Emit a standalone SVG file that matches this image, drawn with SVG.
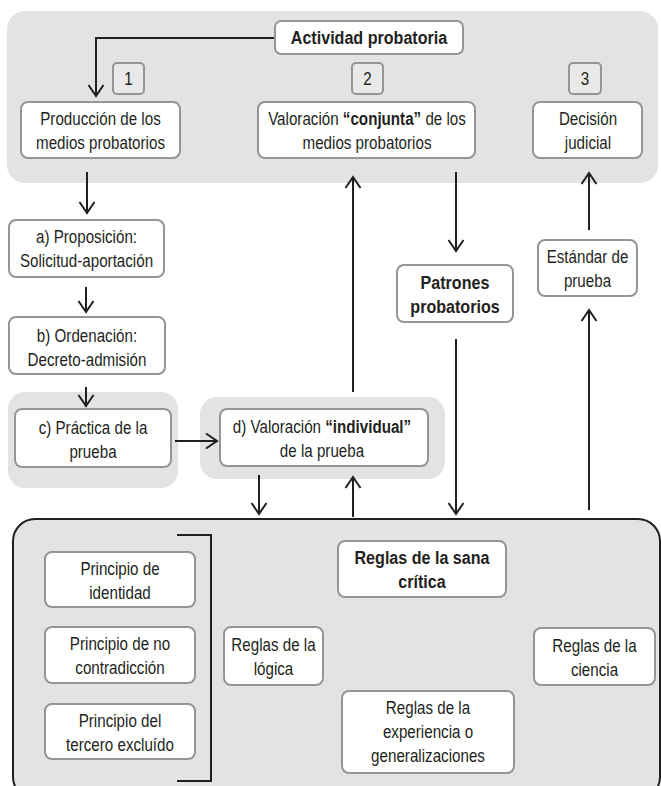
<svg xmlns="http://www.w3.org/2000/svg" width="661" height="786" viewBox="0 0 661 786">
<defs>
<style>
.panel{fill:#e2e4e3;}
.box{fill:#ffffff;stroke:#939598;stroke-width:2;}
.num{fill:#e8e9e8;stroke:#939598;stroke-width:2;}
.t{font-family:"Liberation Sans",Arial,sans-serif;font-size:18.5px;fill:#231f20;text-anchor:middle;}
.b{font-weight:bold;}
.ln{fill:none;stroke:#231f20;stroke-width:2;}
</style>
<marker id="arr" markerUnits="userSpaceOnUse" viewBox="-13 -9 15 18" refX="0" refY="0" markerWidth="15" markerHeight="18" orient="auto" overflow="visible">
<path d="M-11,-7.5 L0,0 L-11,7.5" fill="none" stroke="#231f20" stroke-width="2"/>
</marker>
</defs>

<g id="panels">
<rect class="panel" x="7" y="11" width="651" height="172" rx="18"/>
<rect class="panel" x="8" y="392" width="170" height="96" rx="17"/>
<rect class="panel" x="200" y="397" width="245" height="82" rx="17"/>
<rect class="panel" x="13" y="519" width="647" height="280" rx="22" stroke="#231f20" stroke-width="2"/>
</g>

<g id="connectors">
<path class="ln" d="M275,38 H96 V96" marker-end="url(#arr)"/>
<path class="ln" d="M87,172 V213" marker-end="url(#arr)"/>
<path class="ln" d="M86,287 V312" marker-end="url(#arr)"/>
<path class="ln" d="M86,387 V406" marker-end="url(#arr)"/>
<path class="ln" d="M175,441 H217" marker-end="url(#arr)"/>
<path class="ln" d="M353,392 V177" marker-end="url(#arr)"/>
<path class="ln" d="M456,172 V251" marker-end="url(#arr)"/>
<path class="ln" d="M589,230 V173" marker-end="url(#arr)"/>
<path class="ln" d="M456,339 V514" marker-end="url(#arr)"/>
<path class="ln" d="M589,510 V310" marker-end="url(#arr)"/>
<path class="ln" d="M259,475 V514" marker-end="url(#arr)"/>
<path class="ln" d="M353,517 V477" marker-end="url(#arr)"/>
<path class="ln" d="M177,535 H211 V781 H177"/>
</g>

<g id="actividad">
<rect class="box" x="275" y="21" width="188" height="33" rx="6"/>
<text class="t b" transform="translate(369 0) scale(0.87 1)" y="44">Actividad probatoria</text>
</g>

<g id="n1">
<rect class="num" x="113" y="63" width="31" height="31" rx="4"/>
<text class="t" transform="translate(128.5 0) scale(0.82 1)" y="85">1</text>
</g>
<g id="n2">
<rect class="num" x="352" y="63" width="31" height="31" rx="4"/>
<text class="t" transform="translate(367.5 0) scale(0.82 1)" y="85">2</text>
</g>
<g id="n3">
<rect class="num" x="569" y="63" width="32" height="31" rx="4"/>
<text class="t" transform="translate(585 0) scale(0.82 1)" y="85">3</text>
</g>

<g id="produccion">
<rect class="box" x="21" y="102" width="159" height="56" rx="7"/>
<text class="t" transform="translate(100.5 0) scale(0.82 1)" y="125.5">Producción de los</text>
<text class="t" transform="translate(100.5 0) scale(0.82 1)" y="149.5">medios probatorios</text>
</g>

<g id="conjunta">
<rect class="box" x="258" y="102" width="217" height="56" rx="7"/>
<text class="t" transform="translate(367 0) scale(0.82 1)" y="125.5">Valoración <tspan class="b">“conjunta”</tspan> de los</text>
<text class="t" transform="translate(367 0) scale(0.82 1)" y="149.5">medios probatorios</text>
</g>

<g id="decision">
<rect class="box" x="533" y="102" width="109" height="56" rx="7"/>
<text class="t" transform="translate(588 0) scale(0.82 1)" y="125.5">Decisión</text>
<text class="t" transform="translate(588 0) scale(0.82 1)" y="149.5">judicial</text>
</g>

<g id="proposicion">
<rect class="box" x="9" y="220" width="155" height="57" rx="7"/>
<text class="t" transform="translate(86.5 0) scale(0.82 1)" y="243">a) Proposición:</text>
<text class="t" transform="translate(86.5 0) scale(0.82 1)" y="267">Solicitud-aportación</text>
</g>

<g id="ordenacion">
<rect class="box" x="9" y="317" width="156" height="57" rx="7"/>
<text class="t" transform="translate(87 0) scale(0.82 1)" y="342">b) Ordenación:</text>
<text class="t" transform="translate(87 0) scale(0.82 1)" y="366">Decreto-admisión</text>
</g>

<g id="practica">
<rect class="box" x="15" y="409" width="156" height="58" rx="7"/>
<text class="t" transform="translate(93 0) scale(0.82 1)" y="434">c) Práctica de la</text>
<text class="t" transform="translate(93 0) scale(0.82 1)" y="458">prueba</text>
</g>

<g id="individual">
<rect class="box" x="220" y="409" width="208" height="57" rx="7"/>
<text class="t" transform="translate(322 0) scale(0.82 1)" y="433">d) Valoración <tspan class="b">“individual”</tspan></text>
<text class="t" transform="translate(322 0) scale(0.82 1)" y="457">de la prueba</text>
</g>

<g id="patrones">
<rect class="box" x="397" y="265" width="116" height="57" rx="7"/>
<text class="t b" transform="translate(455 0) scale(0.87 1)" y="289">Patrones</text>
<text class="t b" transform="translate(455 0) scale(0.87 1)" y="313">probatorios</text>
</g>

<g id="estandar">
<rect class="box" x="538" y="240" width="99" height="56" rx="7"/>
<text class="t" transform="translate(587.5 0) scale(0.82 1)" y="263.5">Estándar de</text>
<text class="t" transform="translate(587.5 0) scale(0.82 1)" y="287.5">prueba</text>
</g>

<g id="identidad">
<rect class="box" x="45" y="552" width="150" height="55" rx="7"/>
<text class="t" transform="translate(120 0) scale(0.82 1)" y="575">Principio de</text>
<text class="t" transform="translate(120 0) scale(0.82 1)" y="599">identidad</text>
</g>

<g id="nocontradiccion">
<rect class="box" x="45" y="627" width="150" height="56" rx="7"/>
<text class="t" transform="translate(120 0) scale(0.82 1)" y="650.5">Principio de no</text>
<text class="t" transform="translate(120 0) scale(0.82 1)" y="674.5">contradicción</text>
</g>

<g id="tercero">
<rect class="box" x="45" y="704" width="150" height="55" rx="7"/>
<text class="t" transform="translate(120 0) scale(0.82 1)" y="727">Principio del</text>
<text class="t" transform="translate(120 0) scale(0.82 1)" y="751">tercero excluído</text>
</g>

<g id="sanacritica">
<rect class="box" x="338" y="541" width="168" height="56" rx="7"/>
<text class="t b" transform="translate(422 0) scale(0.87 1)" y="564.5">Reglas de la sana</text>
<text class="t b" transform="translate(422 0) scale(0.87 1)" y="588.5">crítica</text>
</g>

<g id="logica">
<rect class="box" x="224" y="627" width="99" height="58" rx="7"/>
<text class="t" transform="translate(273.5 0) scale(0.82 1)" y="651.5">Reglas de la</text>
<text class="t" transform="translate(273.5 0) scale(0.82 1)" y="675.5">lógica</text>
</g>

<g id="ciencia">
<rect class="box" x="534" y="628" width="121" height="57" rx="7"/>
<text class="t" transform="translate(594.5 0) scale(0.82 1)" y="652">Reglas de la</text>
<text class="t" transform="translate(594.5 0) scale(0.82 1)" y="676">ciencia</text>
</g>

<g id="experiencia">
<rect class="box" x="342" y="691" width="172" height="82" rx="7"/>
<text class="t" transform="translate(428 0) scale(0.82 1)" y="714.5">Reglas de la</text>
<text class="t" transform="translate(428 0) scale(0.82 1)" y="738.5">experiencia o</text>
<text class="t" transform="translate(428 0) scale(0.82 1)" y="762.5">generalizaciones</text>
</g>
</svg>
